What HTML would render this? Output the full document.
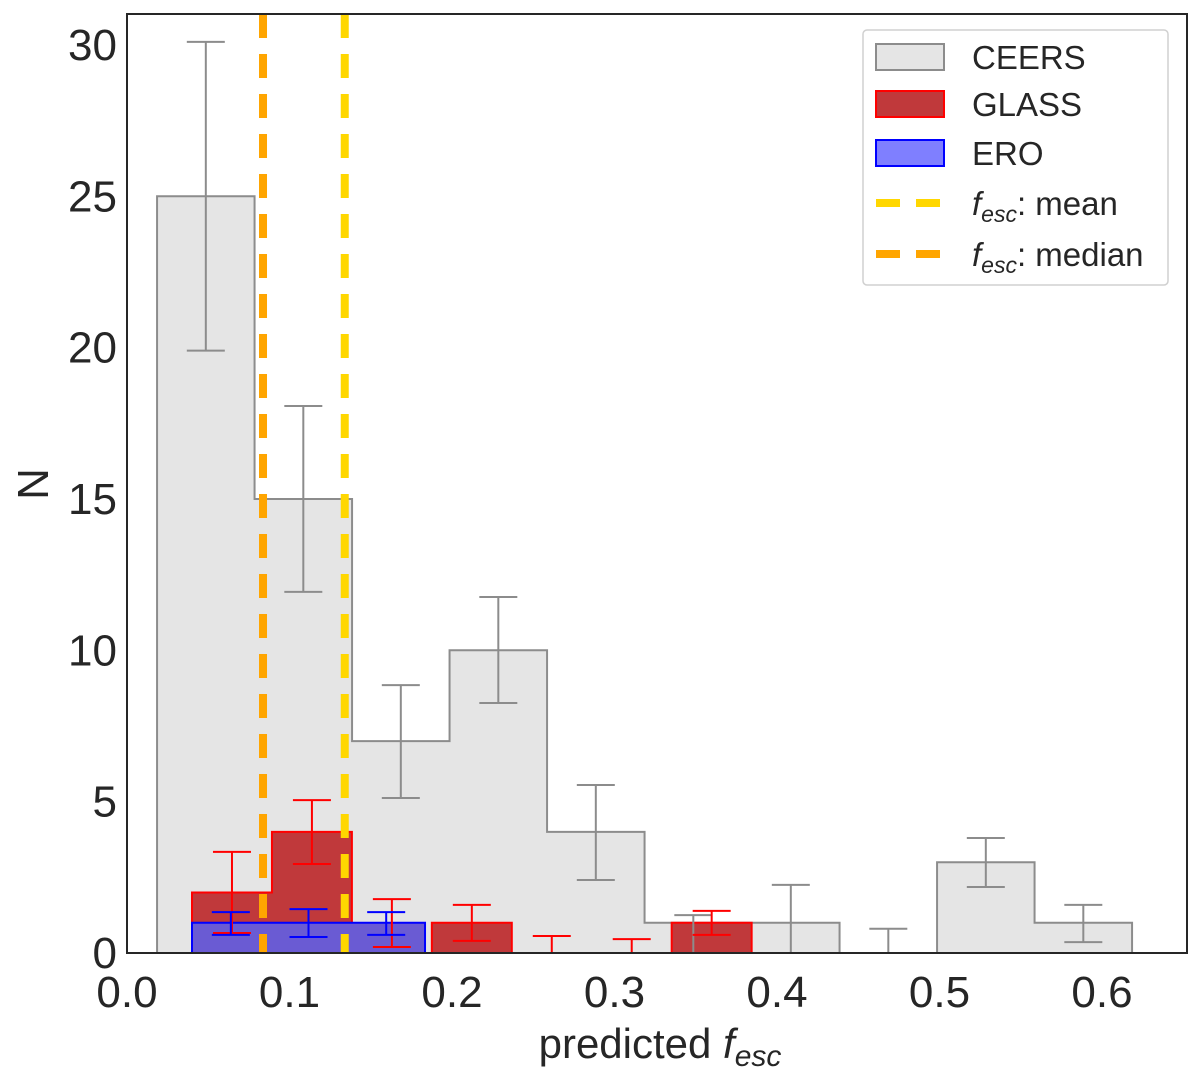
<!DOCTYPE html>
<html><head><meta charset="utf-8"><style>
body{margin:0;background:#fff}
svg text{font-family:"Liberation Sans",Arial,sans-serif;fill:#262626}
</style></head><body>
<svg id="chart" width="1200" height="1081" xmlns="http://www.w3.org/2000/svg"></svg>
<script>
const ceersStart = 0.0185, ceersWidth = 0.06;
const ceersCounts = [25,15,7,10,4,1,1,0,3,1];
const ceersErrHi = [30.1,18.07,8.85,11.76,5.55,1.25,2.25,0.8,3.8,1.59];
const ceersErrLo = [19.9,11.93,5.12,8.26,2.41,0,0,0,2.18,0.36];
const glassStart = 0.04, glassWidth = 0.0492;
const glassCounts = [2,4,0,1,0,0,1];
const glassErrHi = [3.34,5.05,1.78,1.59,0.56,0.46,1.39];
const glassErrLo = [0.66,2.94,0.2,0.4,0,0,0.6];
const eroStart = 0.04, eroWidth = 0.0478;
const eroCounts = [1,1,1];
const eroErrHi = [1.35,1.45,1.35];
const eroErrLo = [0.6,0.53,0.6];
const meanVal = 0.134, medianVal = 0.0837;
const xTicks = [0,0.1,0.2,0.3,0.4,0.5,0.6];
const xTickLabels = ["0.0","0.1","0.2","0.3","0.4","0.5","0.6"];
const yTicks = [0,5,10,15,20,25,30];

const L=127,R=1187,T=14,B=953;
const X=v=>L+v*1625;
const Y=n=>B-n*30.27;
const svg=document.getElementById('chart');
const NS='http://www.w3.org/2000/svg';
function mk(tag,attrs,parent){const e=document.createElementNS(NS,tag);for(const k in attrs)e.setAttribute(k,attrs[k]);(parent||svg).appendChild(e);return e;}

function hist(start,width,counts,fill,stroke,name){
  let i=0;
  while(i<counts.length){
    if(counts[i]<=0){i++;continue;}
    let d='M'+X(start+i*width)+','+Y(0);
    while(i<counts.length && counts[i]>0){
      d+=' L'+X(start+i*width)+','+Y(counts[i])+' L'+X(start+(i+1)*width)+','+Y(counts[i]);
      i++;
    }
    d+=' L'+X(start+i*width)+','+Y(0)+' Z';
    const p=mk('path',{d:d,fill:fill,stroke:stroke,'stroke-width':2});
    
    
  }
}
function errs(start,width,hi,lo,color,cap,name){
  const g=mk('g',{});
  
  
  hi.forEach((h,i)=>{
    const cx=X(start+(i+0.5)*width);
    mk('line',{x1:cx,x2:cx,y1:Y(h),y2:Y(lo[i]),stroke:color,'stroke-width':2},g);
    mk('line',{x1:cx-cap,x2:cx+cap,y1:Y(h),y2:Y(h),stroke:color,'stroke-width':2},g);
    if(lo[i]>0) mk('line',{x1:cx-cap,x2:cx+cap,y1:Y(lo[i]),y2:Y(lo[i]),stroke:color,'stroke-width':2},g);
  });
}
hist(ceersStart,ceersWidth,ceersCounts,'#e5e5e5','#8c8c8c','ceers');
hist(glassStart,glassWidth,glassCounts,'#c0393b','#ff0000','glass');
hist(eroStart,eroWidth,eroCounts,'#6a5bd3','#0000ff','ero');
errs(ceersStart,ceersWidth,ceersErrHi,ceersErrLo,'#8c8c8c',19,'ceers');
errs(glassStart,glassWidth,glassErrHi,glassErrLo,'#ff0000',19,'glass');
errs(eroStart,eroWidth,eroErrHi,eroErrLo,'#0000ff',19,'ero');

let ml=mk('line',{x1:X(medianVal),x2:X(medianVal),y1:T,y2:B,stroke:'#ffa500','stroke-width':8,'stroke-dasharray':'24 16'});

let mn=mk('line',{x1:X(meanVal),x2:X(meanVal),y1:T,y2:B,stroke:'#ffd700','stroke-width':8,'stroke-dasharray':'24 16'});


let fr=mk('rect',{x:L,y:T,width:R-L,height:B-T,fill:'none',stroke:'#262626','stroke-width':2});


xTicks.forEach((v,i)=>{const t=mk('text',{x:X(v),y:1007,'font-size':44,'text-anchor':'middle'});t.textContent=xTickLabels[i];
  });
yTicks.forEach(v=>{const t=mk('text',{x:117,y:Y(v)+15,'font-size':44,'text-anchor':'end'});t.textContent=v;
  });

let xl=mk('text',{x:660,y:1058,'font-size':42,'text-anchor':'middle'});
xl.innerHTML='predicted <tspan font-style="italic">f</tspan><tspan font-style="italic" font-size="30" dy="8">esc</tspan>';

let yl=mk('text',{x:48,y:484,'font-size':44,'text-anchor':'middle',transform:'rotate(-90 48 484)'});
yl.textContent='N';

const lg=mk('g',{});

mk('rect',{x:863,y:30,width:305,height:255,rx:4,fill:'#fff',stroke:'#d0d0d0','stroke-width':1.5},lg);
const legY=[57,104,153,203,254];
const legPatch=[['#e5e5e5','#8c8c8c'],['#c0393b','#ff0000'],['#7f7fff','#0000ff']];
const legText=['CEERS','GLASS','ERO'];
legPatch.forEach((p,i)=>{
  const r=mk('rect',{x:876,y:legY[i]-13,width:68,height:26,fill:p[0],stroke:p[1],'stroke-width':2},lg);
  
  const t=mk('text',{x:972,y:legY[i]+12,'font-size':33},lg);t.textContent=legText[i];
  
});
[['#ffd700','mean'],['#ffa500','median']].forEach((p,j)=>{
  const y=legY[3+j];
  mk('line',{x1:876,x2:944,y1:y,y2:y,stroke:p[0],'stroke-width':8,'stroke-dasharray':'24 16'},lg);
  const t=mk('text',{x:972,y:y+12,'font-size':33},lg);
  t.innerHTML='<tspan font-style="italic">f</tspan><tspan font-style="italic" font-size="23" dy="7">esc</tspan><tspan dy="-7">: '+p[1]+'</tspan>';
  
});
</script>
</body></html>
